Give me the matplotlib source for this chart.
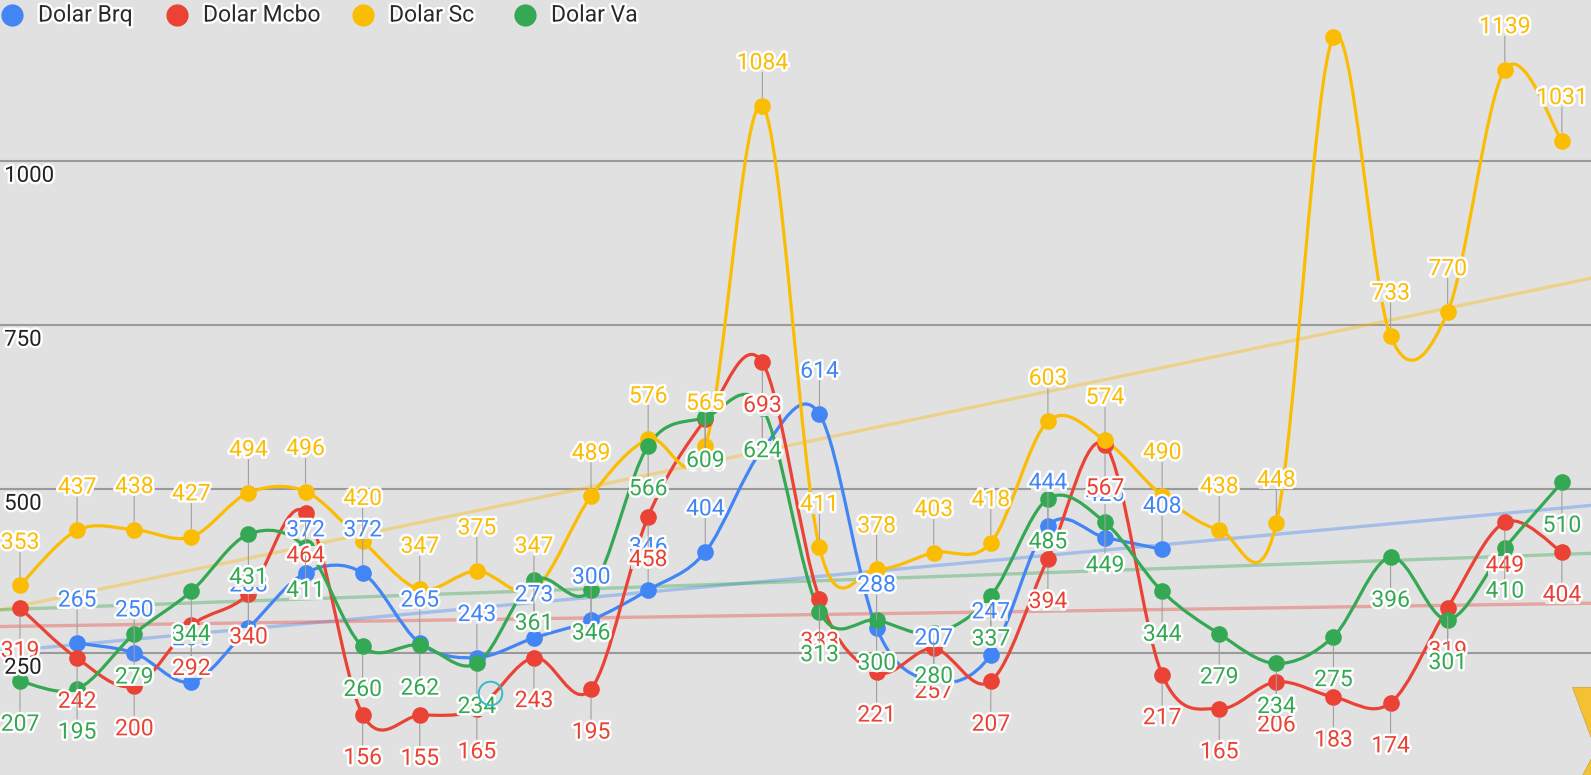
import numpy as np
import matplotlib
matplotlib.use("Agg")
import matplotlib.pyplot as plt
import matplotlib.patheffects as pe
from matplotlib.path import Path
from matplotlib.patches import PathPatch

plt.rcParams["font.family"] = ["Roboto", "DejaVu Sans"]

# -----------------------------
# data (one point per step, the view is cropped on both sides)
# -----------------------------
steps = list(range(28))

dolar_brq = [None, 265, 250, 206, 288, 372, 372, 265, 243, 273, 300, 346, 404, 560,
             614, 288, 207, 247, 444, 426, 408, None, None, None, None, None, None, None]
dolar_mcbo = [319, 242, 200, 292, 340, 464, 156, 155, 165, 243, 195, 458, 606, 693,
              333, 221, 257, 207, 394, 567, 217, 165, 206, 183, 174, 319, 449, 404]
dolar_sc = [353, 437, 438, 427, 494, 496, 420, 347, 375, 347, 489, 576, 565, 1084,
            411, 378, 403, 418, 603, 574, 490, 438, 448, 1189, 733, 770, 1139, 1031]
dolar_va = [207, 195, 279, 344, 431, 411, 260, 262, 234, 361, 346, 566, 609, 624,
            313, 300, 280, 337, 485, 449, 344, 279, 234, 275, 396, 301, 410, 510]

series_names = ["Dolar Brq", "Dolar Mcbo", "Dolar Sc", "Dolar Va"]
series_values = [dolar_brq, dolar_mcbo, dolar_sc, dolar_va]
colors = ["#4285f4", "#ea4335", "#fbbc04", "#34a853"]
label_side = [1, -1, 1, -1]   # annotation above (+1) or below (-1) the point

grid_values = [250, 500, 750, 1000]

BG = "#e1e1e1"
W, H = 1591, 775


def smooth_path(xs, ys):
    # catmull-rom style curve through the points, as cubic beziers
    n = len(xs)
    verts = [(xs[0], ys[0])]
    codes = [Path.MOVETO]
    for k in range(n - 1):
        x0, y0 = (xs[k - 1], ys[k - 1]) if k > 0 else (xs[k], ys[k])
        x1, y1 = xs[k], ys[k]
        x2, y2 = xs[k + 1], ys[k + 1]
        x3, y3 = (xs[k + 2], ys[k + 2]) if k + 2 < n else (x2, y2)
        verts.append((x1 + (x2 - x0) / 6, y1 + (y2 - y0) / 6))
        verts.append((x2 - (x3 - x1) / 6, y2 - (y3 - y1) / 6))
        verts.append((x2, y2))
        codes += [Path.CURVE4] * 3
    return Path(verts, codes)


def segments(xs, ys):
    # split a series at missing values
    out, cur = [], []
    for x, y in zip(xs, ys):
        if y is None:
            if cur:
                out.append(cur)
            cur = []
        else:
            cur.append((x, y))
    if cur:
        out.append(cur)
    return out


fig = plt.figure(figsize=(W / 100, H / 100), dpi=100, facecolor=BG)
ax = fig.add_axes([0, 0, 1, 1])
ax.set_facecolor(BG)
ax.set_xlim(-0.35, 27.51)
ax.set_ylim(64, 1245.4)
ax.axis("off")

halo = [pe.withStroke(linewidth=3.5, foreground="white")]
label_box = dict(boxstyle="square,pad=-0.1", fc=BG, ec="none")

# gridlines
for g in grid_values:
    ax.axhline(g, color="#9a9a9a", lw=1.5, zorder=0.5)

# linear trend lines
for vals, col in zip(series_values, colors):
    xs = np.array([x for x, v in zip(steps, vals) if v is not None])
    ys = np.array([v for v in vals if v is not None], dtype=float)
    slope, icpt = np.polyfit(xs, ys, 1)
    tx = np.array([-1, 29])
    ax.plot(tx, slope * tx + icpt, color=col, lw=2.4, alpha=0.38, zorder=1,
            solid_capstyle="butt")

# series: curve, points, value annotations
for k, (vals, col, side) in enumerate(zip(series_values, colors, label_side)):
    for seg in segments(steps, vals):
        xs = [p[0] for p in seg]
        ys = [p[1] for p in seg]
        ax.add_patch(PathPatch(smooth_path(xs, ys), fill=False, edgecolor=col,
                               lw=2.3, capstyle="round", joinstyle="round",
                               zorder=2 + k * 0.1))
        ax.plot(xs, ys, "o", color=col, ms=12, mec="none", zorder=3 + k * 0.1)

    for x, v in zip(steps, vals):
        if v is None:
            continue
        py = ax.transData.transform((x, v))[1] + side * 43
        if py > H - 8 or py < 8:
            continue
        ax.annotate(str(v), (x, v), xytext=(0, side * 31), textcoords="offset points",
                    ha="center", va="center", fontsize=16.5, color=col,
                    path_effects=halo, bbox=label_box, zorder=5 + k * 0.1,
                    arrowprops=dict(arrowstyle="-", color="#a0a0a0", lw=0.8,
                                    shrinkA=0, shrinkB=6))

# y axis labels, drawn inside the plot under each gridline
for g in grid_values:
    ax.annotate(str(g), (0, g), xycoords=("axes fraction", "data"),
                xytext=(3, -11), textcoords="offset points", ha="left", va="center",
                fontsize=16, color="#222222", path_effects=halo, zorder=8)

# legend across the top
legend_x = [12, 177, 363, 525]
for lx, name, col in zip(legend_x, series_names, colors):
    ax.plot(lx / W, 1 - 15 / H, "o", ms=16, color=col, mec="none",
            transform=ax.transAxes, clip_on=False, zorder=9)
    ax.text((lx + 26) / W, 1 - 15 / H, name, transform=ax.transAxes,
            ha="left", va="center", fontsize=16.5, color="#2a2a2a",
            path_effects=halo, zorder=9)

# touch marker and corner icon left on the screenshot
ax.plot(490 / W, 1 - 693 / H, "o", ms=17, mfc="none", mec="#35b9c9", mew=1.4,
        transform=ax.transAxes, zorder=9)
for poly in ([(1572, 687), (1591, 687), (1591, 738)],
             [(1591, 758), (1591, 775), (1582, 775)]):
    ax.fill([p[0] / W for p in poly], [1 - p[1] / H for p in poly],
            color="#f4c132", ec="#c9a040", lw=0.5, transform=ax.transAxes,
            zorder=9, clip_on=False)

fig.savefig("out.png", dpi=100, facecolor=BG)
